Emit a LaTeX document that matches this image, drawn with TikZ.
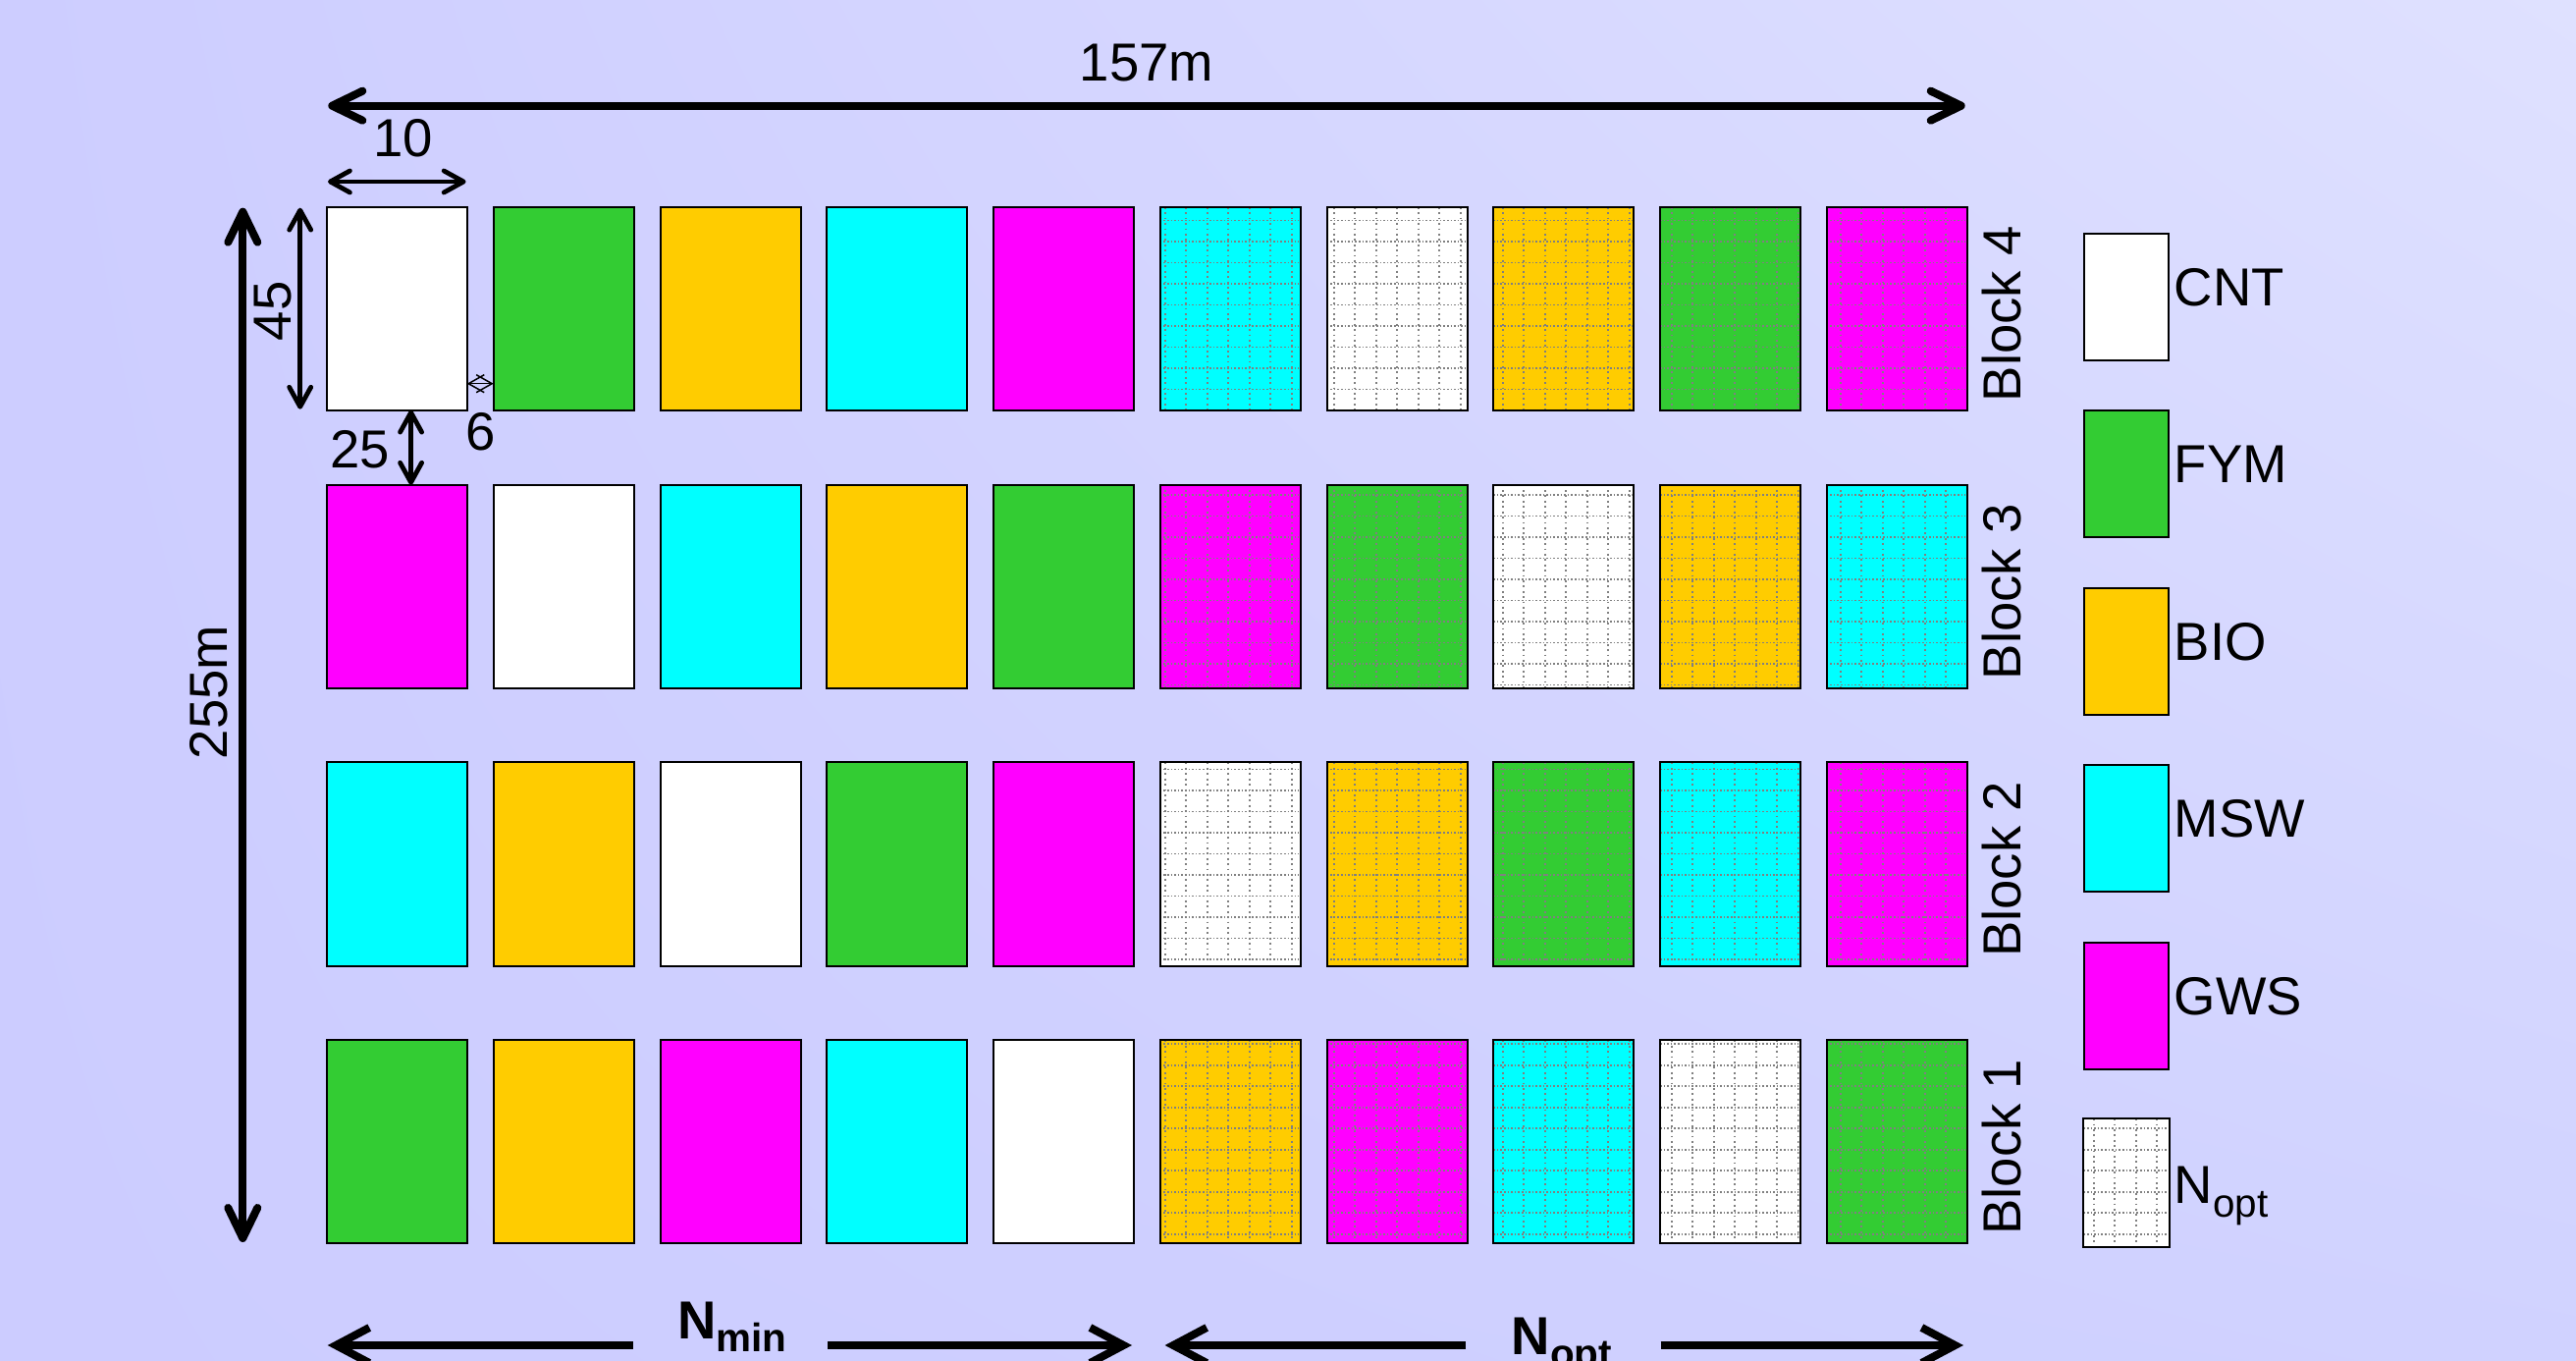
\documentclass[tikz,border=0pt]{standalone}
\usepackage{fontspec}
\setmainfont{Liberation Sans}
\usetikzlibrary{arrows.meta,shadings}
\definecolor{bgTL}{RGB}{205,205,255}
\definecolor{bgTR}{RGB}{223,225,255}
\definecolor{bgBL}{RGB}{204,204,255}
\definecolor{bgBR}{RGB}{208,210,255}
\definecolor{cW}{RGB}{255,255,255}
\definecolor{cG}{RGB}{51,204,51}
\definecolor{cY}{RGB}{255,204,0}
\definecolor{cC}{RGB}{0,255,255}
\definecolor{cM}{RGB}{255,0,255}
\definecolor{dotgray}{RGB}{128,128,128}
\tikzset{
  lbl/.style={font=\fontsize{15.5pt}{18pt}\selectfont, inner sep=0pt},
  cellfill/.style={minimum width=1.415cm, minimum height=2.055cm, inner sep=0pt, anchor=north west},
  cellborder/.style={draw=black, line width=0.02cm},
  legbox/.style={draw=black, line width=0.02cm, minimum width=0.86cm, minimum height=1.29cm, inner sep=0pt, anchor=north west},
  vdots/.style={dotgray, line width=0.018cm, dash pattern=on 0.018cm off 0.036cm},
  hdots/.style={dotgray, line width=0.018cm, dash pattern=on 0.016cm off 0.02cm},
  bigdim/.style={line width=0.08cm, line cap=round, >={Straight Barb[length=0.31cm,width=0.30cm,round]}},
  botdim/.style={line width=0.08cm, >={Straight Barb[length=0.34cm,width=0.36cm]}},
  middim/.style={line width=0.048cm, line cap=round, >={Straight Barb[length=0.2cm,width=0.22cm,round]}},
  tinydim/.style={line width=0.015cm, >={Straight Barb[length=0.16cm,width=0.18cm]}},
}
% grid of dotted lines inside a box: #1 left, #2 top, #3 width, #4 height (pixel units)
\newcommand\mygridcell[4]{%
  \begin{scope}
    \clip (#1,#2) rectangle ++(#3,#4);
    \pgfmathsetmacro\gx{4.2+21.5*floor((#1-4.2)/21.5)}
    \pgfmathsetmacro\gy{9.6+21.5*floor((#2-9.6)/21.5)}
    \foreach \k in {0,...,8} \draw[vdots] ({\gx+\k*21.5},#2) -- ++(0,#4);
    \foreach \k in {0,...,11} \draw[hdots] (#1,{\gy+\k*21.5}) -- ++(#3,0);
  \end{scope}}
\begin{document}
\begin{tikzpicture}[x=0.01cm,y=-0.01cm]
\useasboundingbox (0,0) rectangle (2624,1386);
\shade[upper left=bgTL, upper right=bgTR, lower left=bgBL, lower right=bgBR] (0,0) rectangle (2624,1386);

% plots
\foreach \r/\lst in {0/{W,G,Y,C,M,C,W,Y,G,M},1/{M,W,C,Y,G,M,G,W,Y,C},2/{C,Y,W,G,M,W,Y,G,C,M},3/{G,Y,M,C,W,Y,M,C,W,G}}{
  \foreach \c [count=\i from 0] in \lst {
    \node[cellfill, fill=c\c] (cell-\r-\i) at ({333.3+\i*169.7},{210.9+\r*282.8}) {};
    \ifnum\i>4
      \mygridcell{333.3+\i*169.7}{210.9+\r*282.8}{141.5}{205.5}
    \fi
    \draw[cellborder] (cell-\r-\i.north west) rectangle (cell-\r-\i.south east);
  }
}

% block labels
\foreach \r/\b in {0/4,1/3,2/2,3/1}
  \node[lbl, rotate=90] (block-\b) at (2039,{210.9+\r*282.8+109}) {Block \b};

% legend
\foreach \k/\c/\t in {0/W/CNT,1/G/FYM,2/Y/BIO,3/C/MSW,4/M/GWS}{
  \node[legbox, fill=c\c] (leg-\k) at (2122.3,{236.7+\k*180.5}) {};
  \node[lbl, anchor=base west] (legt-\k) at (2214,{301.2+\k*180.5+10}) {\t};
}
\node[legbox, fill=white, draw=none] (leg-5) at (2122.3,1139.2) {};
\mygridcell{2122.3}{1139.2}{86}{129}
\draw[cellborder] (leg-5.north west) rectangle (leg-5.south east);
\node[lbl, anchor=base west] (legt-5) at (2214,1225.7) {N\raisebox{-3.9pt}{\fontsize{11.5pt}{12pt}\selectfont opt}};

% dimension coordinates
\coordinate (a157L) at (334.3,107.7);  \coordinate (a157R) at (2001.7,107.7);
\coordinate (a10L) at (334,185);      \coordinate (a10R) at (474.6,185);
\coordinate (a45T) at (305.7,211.7);  \coordinate (a45B) at (305.7,416.7);
\coordinate (a255T) at (247.3,211.7); \coordinate (a255B) at (247.3,1265);
\coordinate (a25T) at (418.6,417.7);  \coordinate (a25B) at (418.6,493.7);
\coordinate (a6L) at (475.7,390.7);   \coordinate (a6R) at (502.7,390.7);
\coordinate (nminL) at (333.7,1370);  \coordinate (nminA) at (644.6,1370);
\coordinate (nminB) at (843.2,1370);  \coordinate (nminR) at (1153,1370);
\coordinate (noptL) at (1186.6,1370); \coordinate (noptA) at (1493,1370);
\coordinate (noptB) at (1691.7,1370); \coordinate (noptR) at (2000,1370);

\draw[bigdim,<->] (a157L) -- (a157R);
\draw[bigdim,<->] (a255T) -- (a255B);
\draw[middim,<->] (a10L) -- (a10R);
\draw[middim,<->] (a45T) -- (a45B);
\draw[middim,<->] (a25T) -- (a25B);
\draw[tinydim,<->] (a6L) -- (a6R);
\draw[botdim,->] (nminA) -- (nminL);
\draw[botdim,->] (nminB) -- (nminR);
\draw[botdim,->] (noptA) -- (noptL);
\draw[botdim,->] (noptB) -- (noptR);

% dimension labels
\node[lbl, anchor=base] (t157) at (1168,83) {157m};
\node[lbl, anchor=base] (t10) at (411,159.5) {10};
\node[lbl, rotate=90] (t45) at (278.2,316.7) {45};
\node[lbl, rotate=90] (t255) at (212.5,705) {255m};
\node[lbl] (t25) at (366.6,457.5) {25};
\node[lbl] (t6) at (490,439.3) {6};
\node[lbl, anchor=base] (tnmin) at (746,1363) {\bfseries N\raisebox{-3.9pt}{\fontsize{11.5pt}{12pt}\selectfont\bfseries min}};
\node[lbl, anchor=base] (tnopt) at (1591,1379) {\bfseries N\raisebox{-3.9pt}{\fontsize{11.5pt}{12pt}\selectfont\bfseries opt}};
\end{tikzpicture}
\end{document}
